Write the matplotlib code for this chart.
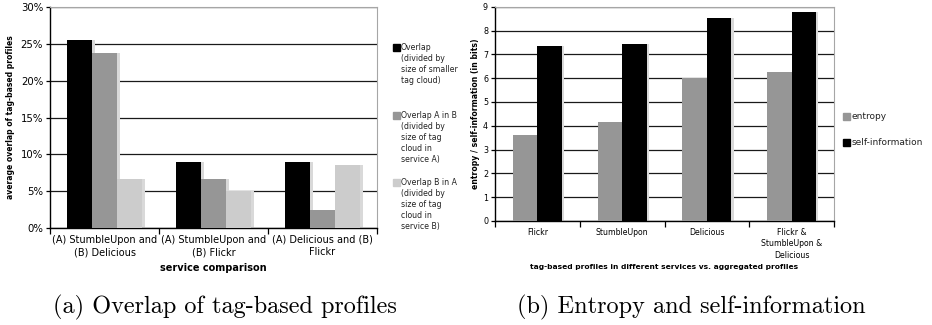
import numpy as np
import matplotlib.pyplot as plt
from matplotlib.ticker import PercentFormatter, FixedLocator

# (a) overlap of tag-based profiles, values in percent
comparisons = ['(A) StumbleUpon and\n(B) Delicious', '(A) StumbleUpon and\n(B) Flickr',
               '(A) Delicious and (B)\nFlickr']
overlap = [25.5, 8.9, 8.9]
overlap_a_in_b = [23.7, 6.6, 2.5]
overlap_b_in_a = [6.7, 5.0, 8.6]
labels_a = ['Overlap\n(divided by\nsize of smaller\ntag cloud)',
            'Overlap A in B\n(divided by\nsize of tag\ncloud in\nservice A)',
            'Overlap B in A\n(divided by\nsize of tag\ncloud in\nservice B)']

# (b) entropy and self-information in bits
profiles = ['Flickr', 'StumbleUpon', 'Delicious', 'Flickr &\nStumbleUpon &\nDelicious']
entropy = [3.6, 4.15, 6.02, 6.26]
self_info = [7.35, 7.44, 8.53, 8.77]
labels_b = ['entropy', 'self-information']

BLACK, DARK, LIGHT = '#000000', '#969696', '#cccccc'
SHADOW = '#d9d9d9'

W, H = 932, 325
fig = plt.figure(figsize=(W / 100, H / 100), dpi=100)


def box(x0, y0, x1, y1):
    return [x0 / W, 1 - y1 / H, (x1 - x0) / W, (y1 - y0) / H]


def style(ax, n):
    ax.set_xlim(-0.5, n - 0.5)
    ax.grid(axis='y', color='#1a1a1a', lw=0.9, zorder=0)
    ax.set_axisbelow(True)
    for s in ('top', 'right'):
        ax.spines[s].set_color('#a6a6a6')
    ax.spines['left'].set_linewidth(1.0)
    ax.spines['bottom'].set_linewidth(1.0)
    # group boundaries carry the ticks, labels sit on the group centres
    ax.xaxis.set_major_locator(FixedLocator(np.arange(n + 1) - 0.5))
    ax.xaxis.set_major_formatter(plt.NullFormatter())
    ax.xaxis.set_minor_locator(FixedLocator(np.arange(n)))
    ax.tick_params(axis='x', which='major', length=4, width=0.9, direction='out')
    ax.tick_params(axis='x', which='minor', length=0, pad=5)
    ax.tick_params(axis='y', length=3, width=0.9, direction='out', pad=2)


def bars(ax, pos, vals, w, color, dx):
    ax.bar(pos + dx, vals, w, color=SHADOW, zorder=2, align='center')
    ax.bar(pos, vals, w, color=color, zorder=3, align='center')


# ---- left chart
ax1 = fig.add_axes(box(50, 7, 377, 228))
x = np.arange(len(comparisons))
w = 0.23
for k, (vals, c) in enumerate([(overlap, BLACK), (overlap_a_in_b, DARK), (overlap_b_in_a, LIGHT)]):
    bars(ax1, x + (k - 1) * w, vals, w, c, 0.025)
style(ax1, len(comparisons))
ax1.set_ylim(0, 30)
ax1.set_yticks(np.arange(0, 31, 5))
ax1.yaxis.set_major_formatter(PercentFormatter(decimals=0))
ax1.set_xticks(x, comparisons, minor=True, fontsize=7.0, linespacing=1.3)
ax1.tick_params(axis='y', labelsize=7.3)
ax1.set_ylabel('average overlap of tag-based profiles', fontsize=5.5, fontweight='bold', labelpad=4)
ax1.set_xlabel('service comparison', fontsize=7, fontweight='bold', labelpad=4)

for (yy, lab, c) in zip([44, 112, 179], labels_a, [BLACK, DARK, LIGHT]):
    fig.patches.append(plt.Rectangle((393 / W, 1 - (yy + 7) / H), 7 / W, 7 / H,
                                     transform=fig.transFigure, color=c))
    fig.text(401 / W, 1 - (yy - 1) / H, lab, fontsize=5.6, va='top', ha='left',
             linespacing=1.3, color='#222222')

# ---- right chart
ax2 = fig.add_axes(box(495, 6.7, 834, 221))
x = np.arange(len(profiles))
w = 0.29
bars(ax2, x - w / 2, entropy, w, DARK, 0.025)
bars(ax2, x + w / 2, self_info, w, BLACK, 0.025)
style(ax2, len(profiles))
ax2.set_ylim(0, 9)
ax2.set_yticks(np.arange(0, 10, 1))
ax2.set_xticks(x, profiles, minor=True, fontsize=5.6, linespacing=1.35)
ax2.tick_params(axis='y', labelsize=5.8)
ax2.set_ylabel('entropy / self-information (in bits)', fontsize=5.6, fontweight='bold', labelpad=2)
ax2.set_xlabel('tag-based profiles in different services vs. aggregated profiles',
               fontsize=5.4, fontweight='bold', labelpad=3)

for (yy, lab, c) in zip([113, 139], labels_b, [DARK, BLACK]):
    fig.patches.append(plt.Rectangle((843 / W, 1 - (yy + 7) / H), 7 / W, 7 / H,
                                     transform=fig.transFigure, color=c))
    fig.text(852 / W, 1 - (yy + 3.5) / H, lab, fontsize=6.5, va='center', ha='left',
             color='#222222')

# sub-figure captions
fig.text(225 / W, 1 - 307 / H, '(a) Overlap of tag-based profiles', fontsize=17.5,
         family='cmr10', ha='center', va='center')
fig.text(691 / W, 1 - 307 / H, '(b) Entropy and self-information', fontsize=17.5,
         family='cmr10', ha='center', va='center')

fig.savefig('out.png', dpi=100)
